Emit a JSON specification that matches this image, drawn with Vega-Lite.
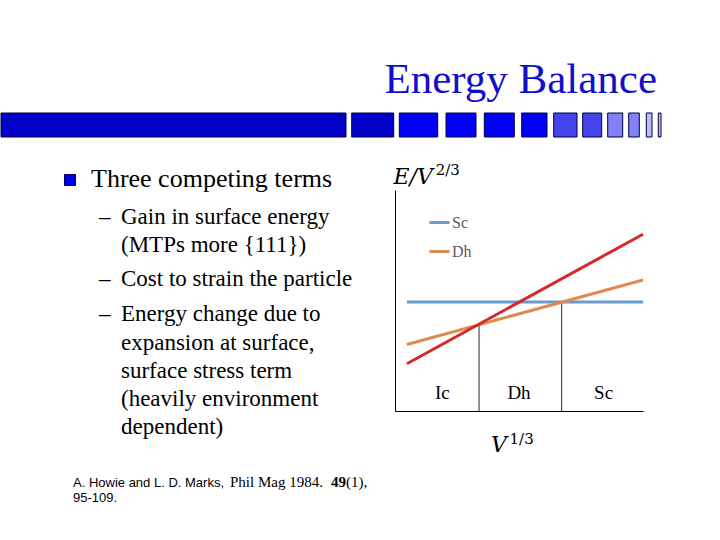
{
  "$schema": "https://vega.github.io/schema/vega-lite/v6.json",
  "description": "Energy Balance slide: competing terms and stability regions",
  "background": "white",
  "padding": {"top": 58, "left": 0, "right": 0, "bottom": 0},
  "config": {"view": {"stroke": null}},
  "spacing": 24,
  "resolve": {"scale": {"color": "independent"}, "legend": {"color": "independent"}},
  "vconcat": [
    {
      "width": 720,
      "height": 24,
      "title": {
        "text": "Energy Balance",
        "anchor": "end",
        "dx": -64,
        "offset": -23,
        "baseline": "alphabetic",
        "font": "Liberation Serif",
        "fontSize": 43,
        "fontWeight": "normal",
        "color": "#1010cc"
      },
      "data": {
        "values": [
          {"start": 0, "end": 345, "tone": "deep"},
          {"start": 350.7, "end": 392.7, "tone": "deep"},
          {"start": 398.3, "end": 436.7, "tone": "bright"},
          {"start": 445, "end": 475, "tone": "bright"},
          {"start": 483.3, "end": 513.3, "tone": "bright"},
          {"start": 520.7, "end": 546, "tone": "bright"},
          {"start": 552.7, "end": 576, "tone": "mid"},
          {"start": 581.7, "end": 600.7, "tone": "mid"},
          {"start": 606.7, "end": 621.7, "tone": "soft"},
          {"start": 627.7, "end": 638.3, "tone": "soft"},
          {"start": 645.3, "end": 651, "tone": "pale"},
          {"start": 657.3, "end": 660, "tone": "pale"}
        ]
      },
      "mark": {"type": "rect", "stroke": "#000040", "strokeWidth": 1},
      "encoding": {
        "x": {"field": "start", "type": "quantitative", "scale": {"domain": [0, 720], "nice": false, "zero": false}, "axis": null},
        "x2": {"field": "end"},
        "y": {"datum": 0, "type": "quantitative", "scale": {"domain": [0, 1], "nice": false}, "axis": null},
        "y2": {"datum": 1},
        "fill": {
          "field": "tone",
          "type": "nominal",
          "scale": {
            "domain": ["deep", "bright", "mid", "soft", "pale"],
            "range": ["#0000c8", "#0000f5", "#4545ee", "#8282f8", "#bcbcf4"]
          },
          "legend": null
        }
      }
    },
    {
      "spacing": 22,
      "resolve": {"scale": {"color": "independent"}, "legend": {"color": "independent"}},
      "hconcat": [
        {
          "width": 370,
          "height": 360,
          "data": {
            "values": [
              {"kind": "bullet", "t": "", "x": 69, "y": 18},
              {"kind": "main", "t": "Three competing terms", "x": 90, "y": 25},
              {"kind": "dash", "t": "–", "x": 98, "y": 62},
              {"kind": "dash", "t": "–", "x": 98, "y": 124},
              {"kind": "dash", "t": "–", "x": 98, "y": 159},
              {"kind": "sub", "t": "Gain in surface energy", "x": 120, "y": 62},
              {"kind": "sub", "t": "(MTPs more {111})", "x": 120, "y": 90},
              {"kind": "sub", "t": "Cost to strain the particle", "x": 120, "y": 124},
              {"kind": "sub", "t": "Energy change due to", "x": 120, "y": 159},
              {"kind": "sub", "t": "expansion at surface,", "x": 120, "y": 188},
              {"kind": "sub", "t": "surface stress term", "x": 120, "y": 216},
              {"kind": "sub", "t": "(heavily environment", "x": 120, "y": 244},
              {"kind": "sub", "t": "dependent)", "x": 120, "y": 272},
              {"kind": "refsans", "t": "A. Howie and L. D. Marks,", "x": 72, "y": 325},
              {"kind": "refsans", "t": "95-109.", "x": 72, "y": 340},
              {"kind": "refserif", "t": "Phil Mag 1984.", "x": 229, "y": 325},
              {"kind": "refbold", "t": "49", "x": 330, "y": 325},
              {"kind": "refserif", "t": "(1),", "x": 345, "y": 325}
            ]
          },
          "encoding": {
            "x": {"field": "x", "type": "quantitative", "scale": {"domain": [0, 370], "nice": false, "zero": false}, "axis": null},
            "y": {"field": "y", "type": "quantitative", "scale": {"domain": [28, 388], "reverse": true, "nice": false, "zero": false}, "axis": null}
          },
          "layer": [
            {
              "transform": [{"filter": "datum.kind === 'bullet'"}],
              "mark": {"type": "square", "size": 121, "filled": true, "fill": "#0000e8", "stroke": "#000066", "strokeWidth": 1, "opacity": 1}
            },
            {
              "transform": [{"filter": "datum.kind === 'main'"}],
              "mark": {"type": "text", "align": "left", "baseline": "alphabetic", "font": "Liberation Serif", "fontSize": 26, "color": "#000"},
              "encoding": {"text": {"field": "t"}}
            },
            {
              "transform": [{"filter": "datum.kind === 'sub' || datum.kind === 'dash'"}],
              "mark": {"type": "text", "align": "left", "baseline": "alphabetic", "font": "Liberation Serif", "fontSize": 23, "color": "#000"},
              "encoding": {"text": {"field": "t"}}
            },
            {
              "transform": [{"filter": "datum.kind === 'refsans'"}],
              "mark": {"type": "text", "align": "left", "baseline": "alphabetic", "font": "Liberation Sans", "fontSize": 13, "color": "#000"},
              "encoding": {"text": {"field": "t"}}
            },
            {
              "transform": [{"filter": "datum.kind === 'refserif'"}],
              "mark": {"type": "text", "align": "left", "baseline": "alphabetic", "font": "Liberation Serif", "fontSize": 15, "color": "#000"},
              "encoding": {"text": {"field": "t"}}
            },
            {
              "transform": [{"filter": "datum.kind === 'refbold'"}],
              "mark": {"type": "text", "align": "left", "baseline": "alphabetic", "font": "Liberation Serif", "fontSize": 15, "fontWeight": "bold", "color": "#000"},
              "encoding": {"text": {"field": "t"}}
            }
          ]
        },
        {
          "width": 248,
          "height": 221,
          "layer": [
            {
              "data": {
                "values": [
                  {"x": 3.39, "top": 3.9},
                  {"x": 6.72, "top": 4.93}
                ]
              },
              "mark": {"type": "rule", "color": "#3d223d", "strokeWidth": 1},
              "encoding": {
                "x": {"field": "x", "type": "quantitative", "title": null},
                "y": {"field": "top", "type": "quantitative", "title": null},
                "y2": {"datum": 0}
              }
            },
            {
              "data": {
                "values": [
                  {"series": "Sc", "x": 0.48, "y": 4.93},
                  {"series": "Sc", "x": 10, "y": 4.93},
                  {"series": "Dh", "x": 0.48, "y": 3.01},
                  {"series": "Dh", "x": 10, "y": 5.93},
                  {"series": "Ic", "x": 0.48, "y": 2.14},
                  {"series": "Ic", "x": 10, "y": 8.0}
                ]
              },
              "mark": {"type": "line", "strokeWidth": 3},
              "encoding": {
                "x": {
                  "field": "x", "type": "quantitative", "title": null,
                  "scale": {"domain": [0, 10], "nice": false, "zero": false},
                  "axis": {"domain": true, "domainColor": "#000", "domainWidth": 1, "ticks": false, "labels": false, "grid": false, "title": null, "minExtent": 0}
                },
                "y": {
                  "field": "y", "type": "quantitative", "title": null,
                  "scale": {"domain": [0, 10], "nice": false, "zero": false},
                  "axis": {"domain": true, "domainColor": "#000", "domainWidth": 1, "ticks": false, "labels": false, "grid": false, "title": null, "minExtent": 0}
                },
                "color": {
                  "field": "series",
                  "type": "nominal",
                  "scale": {"domain": ["Sc", "Dh", "Ic"], "range": ["#6b9bcb", "#de8a4e", "#d42a2a"]},
                  "legend": {
                    "values": ["Sc", "Dh"],
                    "orient": "none",
                    "legendX": 33,
                    "legendY": 21,
                    "title": null,
                    "padding": 0,
                    "symbolType": "stroke",
                    "symbolStrokeWidth": 3,
                    "symbolSize": 400,
                    "labelFont": "Liberation Serif",
                    "labelFontSize": 16,
                    "labelColor": "#595959",
                    "labelOffset": 1,
                    "rowPadding": 9
                  }
                }
              }
            },
            {
              "data": {
                "values": [
                  {"label": "Ic", "x": 1.91, "y": 0.54},
                  {"label": "Dh", "x": 5.0, "y": 0.54},
                  {"label": "Sc", "x": 8.41, "y": 0.54}
                ]
              },
              "mark": {"type": "text", "align": "center", "baseline": "alphabetic", "font": "Liberation Serif", "fontSize": 19, "color": "#000"},
              "encoding": {
                "x": {"field": "x", "type": "quantitative", "title": null},
                "y": {"field": "y", "type": "quantitative", "title": null},
                "text": {"field": "label"}
              }
            },
            {
              "data": {
                "values": [
                  {"label": "E/V", "x": -0.06, "y": 10.27},
                  {"label": "V", "x": 3.87, "y": -1.86}
                ]
              },
              "mark": {"type": "text", "align": "left", "baseline": "alphabetic", "font": "DejaVu Serif", "fontStyle": "italic", "fontSize": 22, "color": "#000"},
              "encoding": {
                "x": {"field": "x", "type": "quantitative", "title": null},
                "y": {"field": "y", "type": "quantitative", "title": null},
                "text": {"field": "label"}
              }
            },
            {
              "data": {
                "values": [
                  {"label": "2/3", "x": 1.64, "y": 10.68},
                  {"label": "1/3", "x": 4.62, "y": -1.49}
                ]
              },
              "mark": {"type": "text", "align": "left", "baseline": "alphabetic", "font": "DejaVu Serif", "fontSize": 15, "color": "#000"},
              "encoding": {
                "x": {"field": "x", "type": "quantitative", "title": null},
                "y": {"field": "y", "type": "quantitative", "title": null},
                "text": {"field": "label"}
              }
            }
          ]
        }
      ]
    }
  ]
}
